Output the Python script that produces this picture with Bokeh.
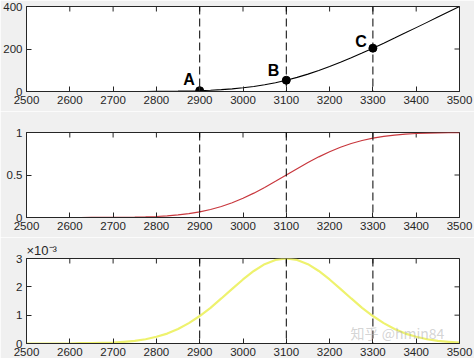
import math
from bokeh.plotting import figure
from bokeh.layouts import column
from bokeh.models import LinearAxis, Span, Label, FixedTicker, Range1d, ColumnDataSource, Grid, Title
from bokeh.embed import file_html
from bokeh.resources import INLINE

# ---------------- data ----------------
x_vals = [2500, 2525, 2550, 2575, 2600, 2625, 2650, 2675, 2700, 2725,
          2750, 2775, 2800, 2825, 2850, 2875, 2900, 2925, 2950, 2975,
          3000, 3025, 3050, 3075, 3100, 3125, 3150, 3175, 3200, 3225,
          3250, 3275, 3300, 3325, 3350, 3375, 3400, 3425, 3450, 3475, 3500]

top_vals = [0.00, 0.00, 0.00, 0.00, 0.00, 0.00, 0.01, 0.03, 0.06, 0.09,
            0.19, 0.30, 0.57, 0.95, 1.54, 2.49, 3.86, 5.85, 8.63, 12.41,
            17.39, 23.77, 31.76, 41.49, 53.06, 66.49, 81.76, 98.77, 117.39, 137.41,
            158.63, 180.85, 203.86, 227.49, 251.54, 275.95, 300.57, 325.30, 350.19, 375.09, 400.06]

cdf_vals = [0.0000, 0.0000, 0.0000, 0.0000, 0.0001, 0.0002, 0.0004, 0.0007, 0.0013, 0.0024,
            0.0042, 0.0073, 0.0120, 0.0193, 0.0301, 0.0453, 0.0663, 0.0941, 0.1297, 0.1736,
            0.2260, 0.2864, 0.3535, 0.4254, 0.5000, 0.5746, 0.6465, 0.7136, 0.7740, 0.8264,
            0.8703, 0.9059, 0.9337, 0.9547, 0.9699, 0.9807, 0.9880, 0.9927, 0.9958, 0.9976, 0.9987]

# density, in units of 1e-3
pdf_e3_vals = [0.00, 0.00, 0.00, 0.00, 0.00, 0.01, 0.01, 0.02, 0.03, 0.06,
               0.09, 0.15, 0.24, 0.35, 0.51, 0.72, 0.97, 1.26, 1.59, 1.93,
               2.26, 2.56, 2.80, 2.95, 3.00, 2.95, 2.80, 2.56, 2.26, 1.93,
               1.59, 1.26, 0.97, 0.72, 0.51, 0.35, 0.24, 0.15, 0.09, 0.06, 0.03]

point_names = ["A", "B", "C"]
point_x = [2900, 3100, 3300]
point_y = [3.86, 53.06, 203.86]

x_ticks = [2500, 2600, 2700, 2800, 2900, 3000, 3100, 3200, 3300, 3400, 3500]
top_ticks = [0, 200, 400]
cdf_ticks = [0, 0.5, 1]
pdf_ticks = [0, 1, 2, 3]

# ---------------- styling ----------------
AX = "#262626"
BG = "#f0f0f0"
FONT = "Liberation Sans"
TICK_FS = "11.5px"


def style_axis(ax, standoff):
    ax.axis_line_color = AX
    ax.major_tick_line_color = AX
    ax.major_tick_in = 5
    ax.major_tick_out = 0
    ax.minor_tick_line_color = None
    ax.major_label_text_font = FONT
    ax.major_label_text_color = AX
    ax.major_label_text_font_size = TICK_FS
    ax.major_label_standoff = standoff


def make_panel(y_max, y_ticks, b_top, b_bottom, overrides=None):
    p = figure(frame_width=433, frame_height=85,
               x_range=Range1d(2500, 3500), y_range=Range1d(0, y_max),
               output_backend="svg", toolbar_location=None,
               x_axis_location=None, y_axis_location=None,
               min_border_left=26, min_border_right=15,
               min_border_top=b_top, min_border_bottom=b_bottom)
    p.background_fill_color = "white"
    p.border_fill_color = BG
    p.outline_line_color = AX
    for r in list(p.center):
        if isinstance(r, Grid):
            r.visible = False
    xb = LinearAxis(ticker=FixedTicker(ticks=x_ticks))
    style_axis(xb, 4)
    p.add_layout(xb, "below")
    yl = LinearAxis(ticker=FixedTicker(ticks=y_ticks))
    style_axis(yl, 4)
    if overrides:
        yl.major_label_overrides = overrides
    p.add_layout(yl, "left")
    # inward ticks on the top and right edges of the box (half of each dash is clipped)
    p.scatter(x_ticks, [y_max] * len(x_ticks), marker="dash", size=10, angle=math.pi / 2,
              line_color=AX, line_width=1)
    p.scatter([3500] * len(y_ticks), y_ticks, marker="dash", size=10,
              line_color=AX, line_width=1)
    for xv in point_x:
        p.add_layout(Span(location=xv, dimension="height", line_color="black",
                          line_width=1, line_dash="8 4"))
    return p


src = ColumnDataSource(dict(x=x_vals, top=top_vals, cdf=cdf_vals, pdf=pdf_e3_vals))

# top panel
p1 = make_panel(400, top_ticks, 6, 20)
p1.line("x", "top", source=src, line_color="black", line_width=1.1)
p1.scatter(point_x, point_y, size=8, color="black")
label_offsets = [(-5, 11), (-7, 10), (-6, 7)]
for name, xv, yv, (dx, dy) in zip(point_names, point_x, point_y, label_offsets):
    p1.add_layout(Label(x=xv, y=yv, text=name, x_offset=dx, y_offset=dy,
                        text_align="right", text_baseline="alphabetic",
                        text_font=FONT, text_font_style="bold",
                        text_font_size="16px", text_color="black"))

# middle panel
p2 = make_panel(1, cdf_ticks, 21, 20, overrides={0: "0", 0.5: "0.5", 1: "1"})
p2.line("x", "cdf", source=src, line_color="#c8373d", line_width=1.2)

# bottom panel
p3 = make_panel(3, pdf_ticks, 21, 14)
p3.line("x", "pdf", source=src, line_color="#eef26e", line_width=2.2)
p3.add_layout(Title(text="\u00d710\u207b\u00b3", align="left", offset=0, standoff=1,
                    text_font=FONT, text_font_size="13px", text_font_style="normal",
                    text_color=AX), "above")
p3.add_layout(Label(x=3465, y=0, text="\u77e5\u4e4e @hmin84", x_offset=0, y_offset=1,
                    text_align="right", text_baseline="bottom",
                    text_font="Noto Sans CJK SC", text_font_size="14px",
                    text_color="#b0b0b0", text_alpha=0.55))

layout = column(p1, p2, p3, spacing=0)
open("out.html", "w").write(file_html(layout, INLINE))
